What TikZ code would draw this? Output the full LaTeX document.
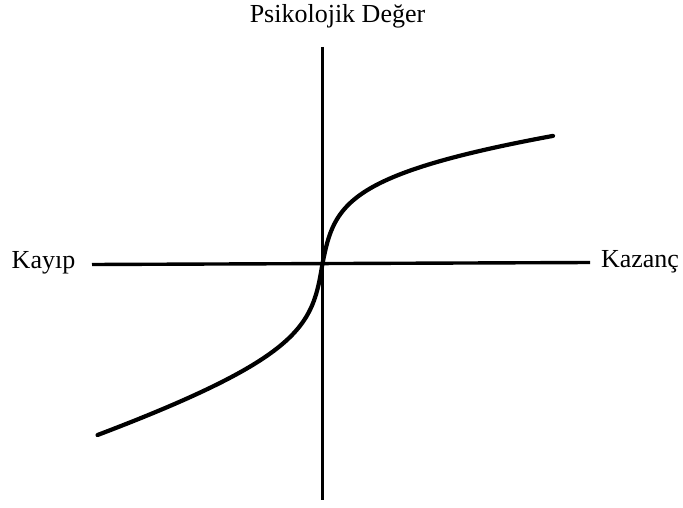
\documentclass[tikz,border=0pt]{standalone}
\usepackage{fontspec}
\setmainfont{Liberation Serif}
\begin{document}
\begin{tikzpicture}[x=1pt,y=-1pt,
  axisline/.style={line width=3.4pt},
  curveline/.style={line width=4.2pt,line cap=round,line join=round},
  lbl/.style={font=\fontsize{26}{31}\selectfont,inner sep=0pt,anchor=base},
  declare function={
    lossf(\u)=23.12*ln(\u/4+sqrt((\u/4)^2+1))+0.277*\u;
    gainf(\u)=24.16*ln(\u/5+sqrt((\u/5)^2+1))+0.0794*\u;
  }]
\useasboundingbox (0,0) rectangle (683,508);
\coordinate (O) at (322.5,263.5);
\coordinate (ytop) at (322.5,47);
\coordinate (ybot) at (322.5,500);
\coordinate (xleft) at (92,264.5);
\coordinate (xright) at (590,262.5);
\node[lbl] (ylab) at (337.5,23) {Psikolojik Değer};
\node[lbl] (loss) at (43.5,268) {Kayıp};
\node[lbl] (gain) at (640,267) {Kazanç};
\draw[axisline] (ytop) -- (ybot);
\draw[axisline] (xleft) -- (xright);
\begin{scope}[shift={(O)}]
\draw[curveline] plot[domain=-225:0,samples=181,variable=\x] (\x,{lossf(-\x)})
  -- plot[domain=0:230.5,samples=181,variable=\x] (\x,{-gainf(\x)});
\end{scope}
\end{tikzpicture}
\end{document}
